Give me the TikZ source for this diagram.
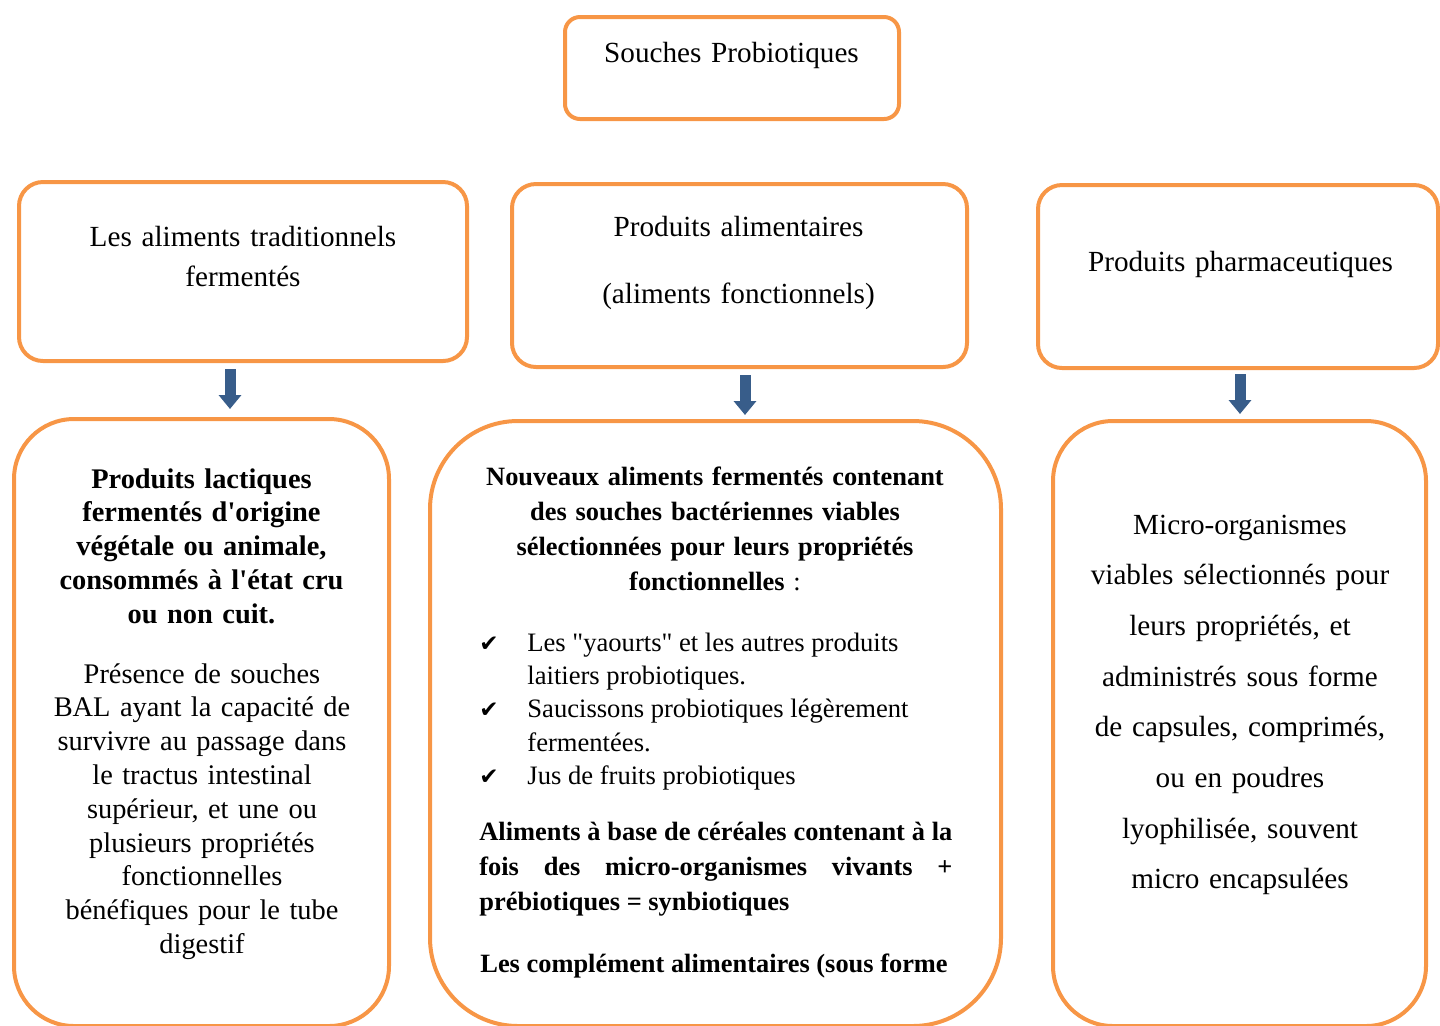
\documentclass[tikz,border=0pt]{standalone}
\usepackage{fontspec}
\setmainfont{Liberation Serif}[Ligatures=TeXOff]
\newfontfamily\checkfont{DejaVu Sans}
\usepackage{tikz}
\usetikzlibrary{positioning, arrows.meta}
\definecolor{boxorange}{RGB}{247,150,70}
\definecolor{arrowblue}{RGB}{56,93,138}
\newcommand{\chk}{{\checkfont\fontsize{11.5}{11.5}\selectfont ✔}}

\begin{document}
\begin{tikzpicture}[x=0.5pt, y=-0.5pt]
    \tikzstyle{topbox} = [rectangle, rounded corners=7.5pt, draw=boxorange, line width=2pt, inner sep=0pt]
    \tikzstyle{midbox} = [rectangle, rounded corners=12pt, draw=boxorange, line width=2pt, inner sep=0pt]
    \tikzstyle{lowbox} = [rectangle, rounded corners=30pt, draw=boxorange, line width=2pt, inner sep=0pt]
    \tikzstyle{bigtxt} = [anchor=base, inner sep=0pt, align=center, text width=215pt, font=\fontsize{14.6}{16.9}\selectfont]
    \tikzstyle{smalltxt} = [anchor=base west, inner sep=0pt, font=\fontsize{13.2}{17.5}\selectfont\bfseries]
    \tikzstyle{arrow} = [arrowblue, line width=5.5pt, -{Triangle[width=11pt, length=7pt]}]

    \useasboundingbox (0,0) rectangle (1440,1025);
    \clip (0,0) rectangle (1440,1025);

    % boxes
    \node (souche) [topbox, minimum width=167pt, minimum height=51pt] at (732,68) {};
    \node (ferm) [midbox, minimum width=224pt, minimum height=89.5pt] at (243,271.5) {};
    \node (alim) [midbox, minimum width=227.5pt, minimum height=91.5pt] at (739.5,275.5) {};
    \node (pharma) [midbox, minimum width=200pt, minimum height=91.5pt] at (1238,276.5) {};
    \node (lact) [lowbox, minimum width=187.5pt, minimum height=303.5pt] at (201.5,722.5) {};
    \node (nouv) [lowbox, rounded corners=44pt, minimum width=285.5pt, minimum height=302.5pt] at (715.5,723.5) {};
    \node (micro) [lowbox, minimum width=186.5pt, minimum height=302.5pt] at (1239.5,723.5) {};

    % texts
    \node (souchetxt) [bigtxt] at (731.5,62) {Souches Probiotiques};
    \node (fermtxt) [bigtxt, font=\fontsize{14.6}{20}\selectfont] at (243,246) {Les aliments traditionnels\\fermentés};
    \node (alimtxt) [bigtxt, font=\fontsize{14.6}{33.5}\selectfont] at (738.5,236) {Produits alimentaires\\(aliments fonctionnels)};
    \node (pharmatxt) [bigtxt] at (1240.5,271) {Produits pharmaceutiques};

    \node (lacttxt) [bigtxt, text width=180pt, font=\fontsize{14.2}{16.9}\selectfont\bfseries] at (201.5,488) {Produits lactiques\\fermentés d'origine\\végétale ou animale,\\consommés à l'état cru\\ou non cuit.};
    \node (baltxt) [bigtxt, text width=180pt, font=\fontsize{14.2}{16.9}\selectfont] at (202,683) {Présence de souches\\BAL ayant la capacité de\\survivre au passage dans\\le tractus intestinal\\supérieur, et une ou\\plusieurs propriétés\\fonctionnelles\\bénéfiques pour le tube\\digestif};

    \node (nouvtxt) [smalltxt, anchor=base, align=center, text width=270pt] at (715,485) {Nouveaux aliments fermentés contenant\\des souches bactériennes viables\\sélectionnées pour leurs propriétés\\fonctionnelles \mdseries:};
    \node (listtxt) [smalltxt, font=\fontsize{13.3}{16.7}\selectfont] at (479,651) {%
        \begin{tabular}[t]{@{}p{24pt}@{}l@{}}
        \chk & Les "yaourts" et les autres produits \\
         & laitiers probiotiques. \\
        \chk & Saucissons probiotiques légèrement \\
         & fermentées. \\
        \chk & Jus de fruits probiotiques
        \end{tabular}};
    \node (cerealtxt) [smalltxt, text width=236.5pt, align=justify] at (479,840) {Aliments à base de céréales contenant à la\linebreak fois des micro-organismes vivants +\linebreak prébiotiques = synbiotiques};
    \node (compltxt) [smalltxt] at (480,972) {Les complément alimentaires (sous forme};

    \node (microtxt) [bigtxt, text width=180pt, font=\fontsize{14.6}{25.35}\selectfont] at (1240,534) {Micro-organismes\\viables sélectionnés pour\\leurs propriétés, et\\administrés sous forme\\de capsules, comprimés,\\ou en poudres\\lyophilisée, souvent\\micro encapsulées};

    % arrows
    \draw [arrow, shorten <=3pt, shorten >=4pt] ([xshift=-6.5pt]ferm.south) -- ([xshift=14.25pt]lact.north);
    \draw [arrow, shorten <=3pt, shorten >=2pt] ([xshift=2.75pt]alim.south) -- ([xshift=14.75pt]nouv.north);
    \draw [arrow, shorten <=2pt, shorten >=2.5pt] ([xshift=1pt]pharma.south) -- ([xshift=0.25pt]micro.north);
\end{tikzpicture}
\end{document}
